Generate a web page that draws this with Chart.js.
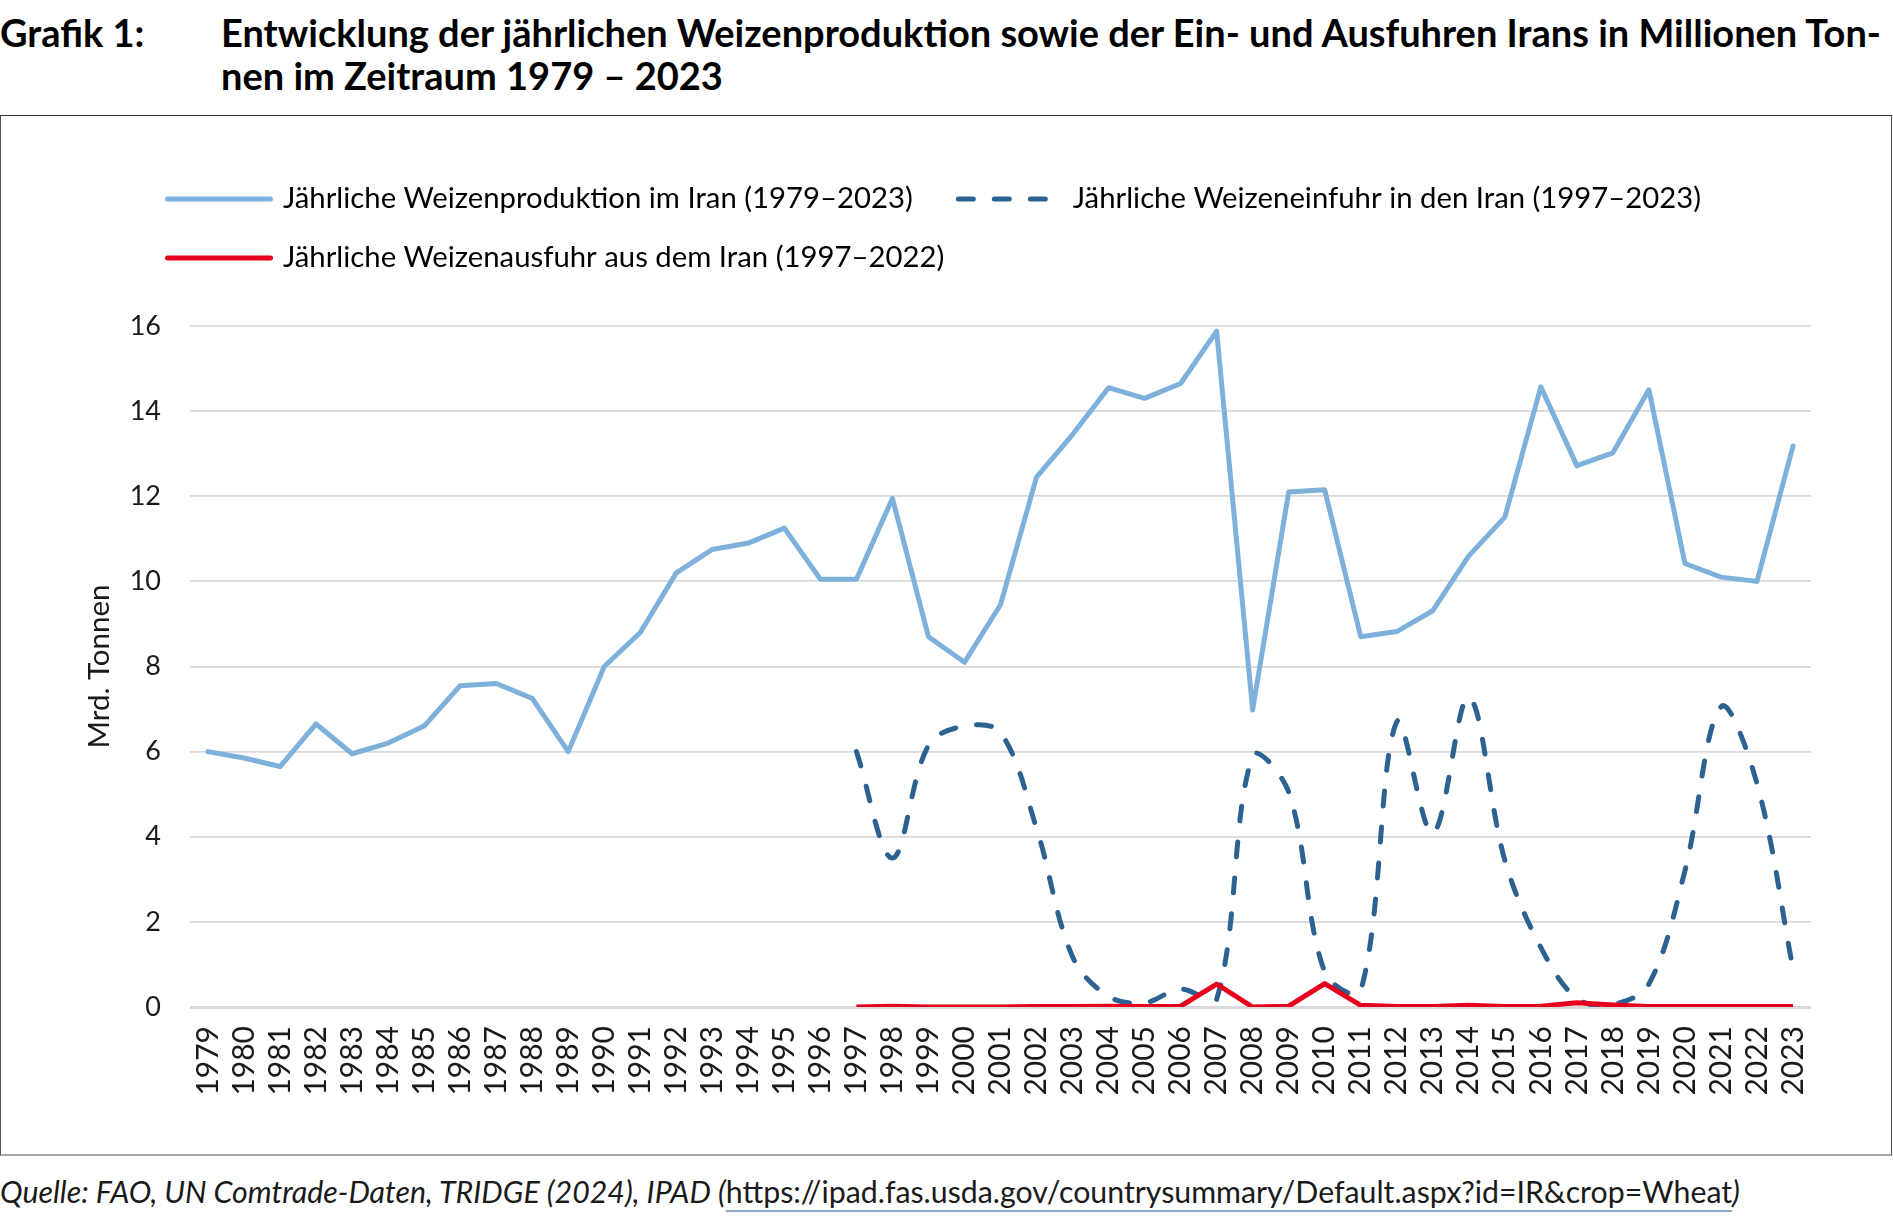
<!DOCTYPE html>
<html lang="de">
<head>
<meta charset="utf-8">
<script src="https://cdn.jsdelivr.net/npm/chart.js@4"></script>
<style>
  html, body { margin: 0; padding: 0; background: #fff; }
  body { width: 1893px; height: 1219px; position: relative; overflow: hidden; font-family: Lato, "Noto Sans", sans-serif; color: #000; }
  #tnum { position: absolute; left: 0; top: 11px; font-weight: 700; font-size: 38px; line-height: 43px; white-space: nowrap; }
  #ttext { position: absolute; left: 221px; top: 11px; font-weight: 700; font-size: 38px; line-height: 43px; white-space: nowrap; }
  #box { position: absolute; left: 0; top: 115px; width: 1892px; height: 1041px; box-sizing: border-box;
         border-top: 1.5px solid #333; border-left: 1px solid #555; border-right: 1.5px solid #555; border-bottom: 2px solid #a6a6a6; }
  #wrap { position: absolute; left: 1px; top: 116px; width: 1889px; height: 1038px; }
  #foot { position: absolute; left: 0; top: 1173px; font-size: 30.3px; line-height: 36px; white-space: nowrap; color: #1a1a1a; font-style: italic; }
  #foot .url { font-style: normal; text-decoration: underline; text-decoration-color: #8eaacb; text-underline-offset: 7px; text-decoration-thickness: 2px; }
</style>
</head>
<body>
<div id="tnum">Grafik 1:</div>
<div id="ttext">Entwicklung der jährlichen Weizenproduktion sowie der Ein- und Ausfuhren Irans in Millionen Ton-<br>nen im Zeitraum 1979 – 2023</div>
<div id="box"></div>
<div id="wrap"><canvas id="c" width="1889" height="1038"></canvas></div>
<div id="foot">Quelle: FAO, UN Comtrade-Daten, TRIDGE (2024), IPAD (<span class="url">https://ipad.fas.usda.gov/countrysummary/Default.aspx?id=IR&amp;crop=Wheat</span>)</div>
<script>
// ---- Data ----
const years = ['1979','1980','1981','1982','1983','1984','1985','1986','1987','1988','1989','1990','1991','1992','1993','1994','1995','1996','1997','1998','1999','2000','2001','2002','2003','2004','2005','2006','2007','2008','2009','2010','2011','2012','2013','2014','2015','2016','2017','2018','2019','2020','2021','2022','2023'];

const production = [6.0, 5.85, 5.65, 6.65, 5.95, 6.2, 6.6, 7.55, 7.6, 7.25, 6.0, 8.0, 8.8, 10.2, 10.75, 10.9, 11.25, 10.05, 10.05, 11.95, 8.7, 8.1, 9.45, 12.45, 13.45, 14.55, 14.3, 14.65, 15.88, 6.98, 12.1, 12.15, 8.7, 8.82, 9.31, 10.6, 11.51, 14.57, 12.72, 13.02, 14.5, 10.42, 10.1, 10.0, 13.18];

const imports = [null, null, null, null, null, null, null, null, null, null, null, null, null, null, null, null, null, null,
  6.0, 3.5, 6.15, 6.6, 6.45, 4.2, 1.18, 0.25, 0.1, 0.42, 0.18, 5.9, 5.05, 0.82, 0.38, 6.7, 4.08, 7.28, 3.45, 1.4, 0.2, 0.06, 0.54, 3.2, 7.05, 5.25, 0.9];

const exportsData = [null, null, null, null, null, null, null, null, null, null, null, null, null, null, null, null, null, null,
  0.0, 0.02, 0.0, 0.0, 0.0, 0.01, 0.01, 0.02, 0.01, 0.02, 0.54, 0.0, 0.02, 0.55, 0.04, 0.01, 0.01, 0.04, 0.01, 0.02, 0.1, 0.05, 0.01, 0.01, 0.01, 0.01, 0.01];

const seriesLabels = [
  'Jährliche Weizenproduktion im Iran (1979–2023)',
  'Jährliche Weizeneinfuhr in den Iran (1997–2023)',
  'Jährliche Weizenausfuhr aus dem Iran (1997–2022)'
];
const yTicks = [0, 2, 4, 6, 8, 10, 12, 14, 16];
const yTitle = 'Mrd. Tonnen';

// ---- Chart ----
const FONT = 'Lato';
const TXT = '#1a1a1a';

const legendPlugin = {
  id: 'customLegend',
  afterDraw(chart) {
    const ctx = chart.ctx;
    const ds = chart.data.datasets;
    const rows = [[0, 1], [2]];
    const rowY = [83, 142];
    const startX = 164;
    ctx.save();
    ctx.font = '29.3px ' + FONT;
    ctx.textBaseline = 'middle';
    ctx.textAlign = 'left';
    rows.forEach((row, ri) => {
      let x = startX;
      const y = rowY[ri];
      row.forEach((i) => {
        const d = ds[i];
        const dashed = d.borderDash && d.borderDash.length;
        const sw = dashed ? 93 : 108;
        const gap = dashed ? 24 : 10;
        const lw = 5;
        ctx.save();
        ctx.strokeStyle = d.borderColor;
        ctx.lineWidth = lw;
        ctx.lineCap = 'round';
        ctx.setLineDash(dashed ? d.borderDash : []);
        ctx.beginPath();
        ctx.moveTo(x + lw / 2, y);
        ctx.lineTo(x + sw - lw / 2, y);
        ctx.stroke();
        ctx.restore();
        ctx.fillStyle = '#000';
        const tx = x + sw + gap;
        ctx.fillText(d.label, tx, y);
        x = tx + ctx.measureText(d.label).width + 43;
      });
    });
    ctx.restore();
  }
};

function build() {
  Chart.defaults.font.family = FONT;
  Chart.defaults.color = TXT;
  new Chart(document.getElementById('c'), {
    type: 'line',
    data: {
      labels: years,
      datasets: [
        { label: seriesLabels[0], data: production, borderColor: '#7db1dc', backgroundColor: '#7db1dc',
          borderWidth: 5, pointRadius: 0, tension: 0, borderJoinStyle: 'round', borderCapStyle: 'round', order: 3 },
        { label: seriesLabels[1], data: imports, borderColor: '#2c6291', backgroundColor: '#2c6291',
          borderWidth: 5, borderDash: [15, 21], borderCapStyle: 'round', pointRadius: 0, tension: 0.35, order: 2 },
        { label: seriesLabels[2], data: exportsData, borderColor: '#e6001e', backgroundColor: '#e6001e',
          borderWidth: 5, pointRadius: 0, tension: 0, borderJoinStyle: 'round', order: 1 }
      ]
    },
    options: {
      responsive: false,
      animation: false,
      events: [],
      layout: { padding: { top: 210, right: 79, left: 0, bottom: 0 } },
      plugins: { legend: { display: false }, tooltip: { enabled: false }, title: { display: false } },
      scales: {
        x: {
          type: 'category',
          offset: true,
          grid: { display: false, drawTicks: false },
          border: { display: false },
          ticks: { autoSkip: false, minRotation: 90, maxRotation: 90, padding: 19, color: TXT, font: { size: 30, family: FONT } },
          afterFit(scale) { scale.height = 147; }
        },
        y: {
          min: 0, max: 16,
          afterBuildTicks(scale) { scale.ticks = yTicks.map(v => ({ value: v })); },
          grid: {
            color: '#d9d9d9',
            lineWidth: (c) => (c.tick && c.tick.value === 0 ? 3 : 1.8),
            drawTicks: false
          },
          border: { display: false },
          ticks: { padding: 29, color: TXT, font: { size: 27, family: FONT } },
          title: { display: true, text: yTitle, color: TXT, font: { size: 29.5, family: FONT, lineHeight: 1 }, padding: { top: 84, bottom: 0 } },
          afterFit(scale) { scale.width = 189; }
        }
      }
    },
    plugins: [legendPlugin]
  });
}

const fontLoads = [
  document.fonts.load('27px Lato'),
  document.fonts.load('bold 38px Lato'),
  document.fonts.load('italic 30px Lato')
];
Promise.all(fontLoads).then(build, build);
</script>
</body>
</html>
